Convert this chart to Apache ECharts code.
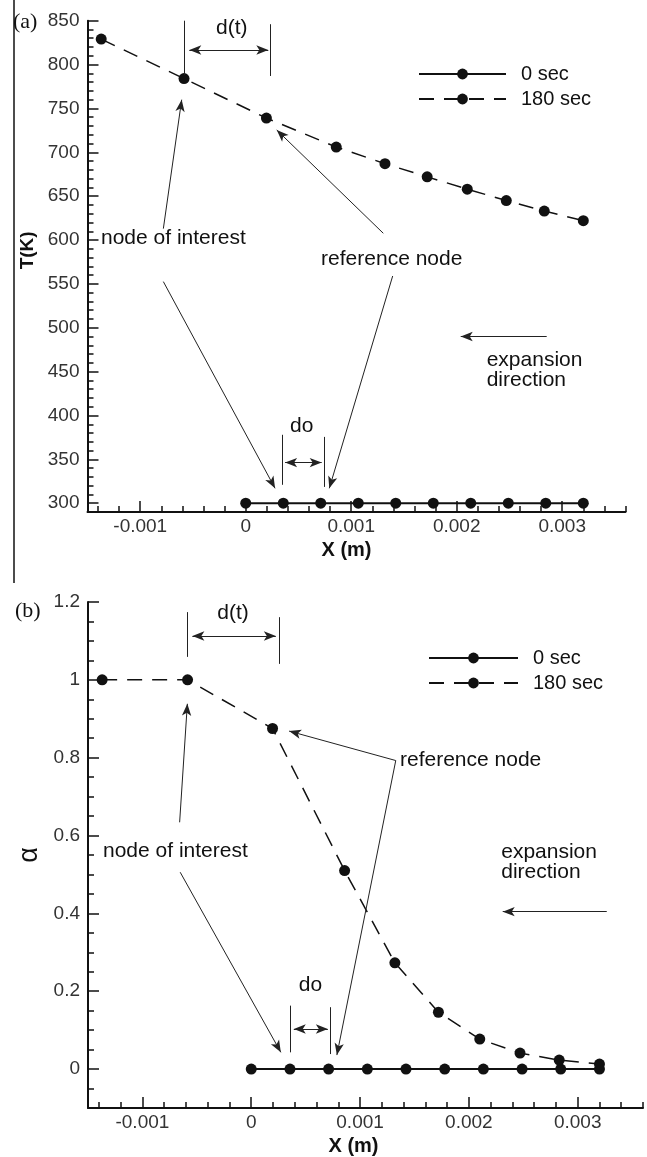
<!DOCTYPE html>
<html>
<head>
<meta charset="utf-8">
<script src="https://cdn.jsdelivr.net/npm/echarts@6/dist/echarts.min.js"></script>
<style>html,body{margin:0;padding:0;background:#fff}#main{width:647px;height:1157px}</style>
</head>
<body>
<div id="main"></div>
<script>
// node positions (m)
var xNodes0 = [0, 0.000356, 0.000711, 0.001067, 0.001422, 0.001778, 0.002133, 0.002489, 0.002844, 0.0032];
var xNodes180 = [-0.00137, -0.000585, 0.000196, 0.000858, 0.00132, 0.00172, 0.0021, 0.00247, 0.00283, 0.0032];
// temperature T(K)
var T0 = [300, 300, 300, 300, 300, 300, 300, 300, 300, 300];
var T180 = [829, 784, 739, 706, 687, 672, 658, 645, 633, 622];
// alpha
var alpha0 = [0, 0, 0, 0, 0, 0, 0, 0, 0, 0];
var alpha180 = [1, 1, 0.875, 0.51, 0.273, 0.146, 0.077, 0.041, 0.023, 0.013];
var seriesNames = ['0 sec', '180 sec'];

// tick labels
var xMajor = [-0.001, 0, 0.001, 0.002, 0.003];
var tMajor = [300, 350, 400, 450, 500, 550, 600, 650, 700, 750, 800, 850];
var aMajor = [0, 0.2, 0.4, 0.6, 0.8, 1, 1.2];

function steps(from, to, step) {
  var out = [];
  var n = Math.round((to - from) / step);
  for (var i = 0; i <= n; i++) out.push(+(from + i * step).toFixed(6));
  return out;
}
var xMinor = steps(-0.0014, 0.0036, 0.0002);
var tMinor = steps(300, 850, 10);
var aMinor = steps(-0.05, 1.2, 0.05);

function pairs(xs, ys) {
  return xs.map(function (x, i) { return [x, ys[i]]; });
}

var sans = 'Liberation Sans, Arial, sans-serif';
var ink = '#111';

// annotation helpers (data coordinates)
function seg(a, b, endArrow, startArrow) {
  return [
    {coord: a, symbol: startArrow ? 'arrow' : 'none'},
    {coord: b, symbol: endArrow ? 'arrow' : 'none'}
  ];
}
function note(txt, c, align) {
  return {coord: c, value: 0, label: {formatter: txt, align: align || 'center'}};
}
function marks(lines, notes) {
  return {
    markLine: {
      silent: true, animation: false,
      symbolSize: [7, 12],
      label: {show: false},
      lineStyle: {color: '#222', width: 1, type: 'solid'},
      emphasis: {disabled: true},
      data: lines
    },
    markPoint: {
      silent: true, animation: false,
      symbol: 'circle', symbolSize: 0,
      itemStyle: {color: 'transparent'},
      label: {show: true, position: 'inside', fontSize: 21, lineHeight: 20, color: ink, fontFamily: sans},
      data: notes
    }
  };
}

var annA = marks([
  seg([-0.000582, 850], [-0.000582, 788]),
  seg([0.00023, 846], [0.00023, 787]),
  seg([-0.000535, 816.6], [0.000214, 816.6], true, true),
  seg([-0.000781, 613], [-0.000607, 760], true),
  seg([-0.000781, 552.6], [0.000278, 317], true),
  seg([0.001304, 607.7], [0.000294, 725.4], true),
  seg([0.001393, 559], [0.000792, 317], true),
  seg([0.000344, 378], [0.000344, 321]),
  seg([0.000742, 375.6], [0.000742, 318.6]),
  seg([0.000373, 346.3], [0.00072, 346.3], true, true),
  seg([0.002853, 490], [0.002038, 490], true)
], [
  note('d(t)', [-0.000133, 841]),
  note('do', [0.000531, 388]),
  note('node of interest', [-0.000686, 602]),
  note('reference node', [0.001384, 578]),
  note('expansion\ndirection', [0.002284, 452], 'left')
]);

var annB = marks([
  seg([-0.000591, 1.174], [-0.000591, 1.059]),
  seg([0.000256, 1.161], [0.000256, 1.041]),
  seg([-0.000541, 1.1126], [0.000226, 1.1126], true, true),
  seg([-0.000658, 0.634], [-0.000587, 0.9385], true),
  seg([-0.000653, 0.5058], [0.000272, 0.043], true),
  seg([0.001328, 0.7927], [0.000348, 0.8683], true),
  seg([0.001328, 0.7927], [0.000787, 0.036], true),
  seg([0.000354, 0.163], [0.000354, 0.043]),
  seg([0.000727, 0.159], [0.000727, 0.0386]),
  seg([0.000391, 0.1029], [0.000704, 0.1029], true, true),
  seg([0.003267, 0.4045], [0.002311, 0.4045], true)
], [
  note('d(t)', [-0.000168, 1.170]),
  note('do', [0.000544, 0.216]),
  note('node of interest', [-0.000697, 0.5605]),
  note('reference node', [0.001367, 0.7927], 'left'),
  note('expansion\ndirection', [0.002297, 0.532], 'left')
]);

function majorAxis(grid, min, max, ticks, extra) {
  var ax = {
    gridIndex: grid, type: 'value', min: min, max: max,
    axisLine: {onZero: false, lineStyle: {color: ink, width: 2}},
    axisTick: {inside: true, length: 11, customValues: ticks, lineStyle: {color: ink, width: 1.5}},
    axisLabel: {customValues: ticks, fontSize: 19, color: '#333', fontFamily: sans},
    splitLine: {show: false}
  };
  for (var k in extra) ax[k] = extra[k];
  return ax;
}
function minorAxis(grid, min, max, ticks, pos) {
  return {
    gridIndex: grid, type: 'value', min: min, max: max, position: pos,
    axisLine: {show: false, onZero: false},
    axisTick: {inside: true, length: 6, customValues: ticks, lineStyle: {color: ink, width: 1.5}},
    axisLabel: {show: false},
    splitLine: {show: false}
  };
}
function xName(pad) {
  return {name: 'X (m)', nameLocation: 'middle', nameGap: 28, position: 'bottom',
    nameTextStyle: {fontSize: 20, fontWeight: 'bold', color: ink, fontFamily: sans, padding: [0, pad, 0, 0]}};
}

var xA = majorAxis(0, -0.0015, 0.0036, xMajor, xName(20));
xA.axisLabel.margin = 5;
var xB = majorAxis(1, -0.0015, 0.0036, xMajor, xName(24));
xB.axisLabel.margin = 5;
var yA = majorAxis(0, 290, 850, tMajor, {position: 'left', name: 'T(K)', nameLocation: 'middle', nameGap: 46,
  nameTextStyle: {fontSize: 19, fontWeight: 'bold', color: ink, fontFamily: sans, padding: [0, 0, 0, 32]}});
yA.axisLabel.margin = 8;
var yB = majorAxis(1, -0.1, 1.2, aMajor, {position: 'left', name: 'α', nameLocation: 'middle', nameGap: 41,
  nameTextStyle: {fontSize: 27, color: ink, fontFamily: sans}});
yB.axisLabel.margin = 8;

function lineSeries(name, xi, yi, xs, ys, dashed, extra) {
  var s = {
    name: name, type: 'line', xAxisIndex: xi, yAxisIndex: yi,
    data: pairs(xs, ys),
    symbol: 'circle', symbolSize: 11, showAllSymbol: true,
    itemStyle: {color: ink},
    lineStyle: dashed ? {color: ink, width: 1.5, type: [15, 10]} : {color: ink, width: 2},
    emphasis: {disabled: true},
    animation: false
  };
  for (var k in extra) s[k] = extra[k];
  return s;
}

var legendBase = {
  orient: 'vertical', padding: 0, itemHeight: 13.5, itemGap: 5,
  data: seriesNames,
  textStyle: {fontSize: 20, color: ink, fontFamily: sans, padding: [0, 0, 0, 10]}
};
function legendAt(left, top, w) {
  var l = JSON.parse(JSON.stringify(legendBase));
  l.left = left; l.top = top; l.itemWidth = w;
  return l;
}

var chart = echarts.init(document.getElementById('main'));
chart.setOption({
  backgroundColor: '#fff',
  animation: false,
  title: [
    {text: '(a)', left: 8, top: 6, textStyle: {fontFamily: 'Liberation Serif, serif', fontSize: 22, fontWeight: 'normal', color: ink}},
    {text: '(b)', left: 10, top: 595, textStyle: {fontFamily: 'Liberation Serif, serif', fontSize: 22, fontWeight: 'normal', color: ink}}
  ],
  legend: [legendAt(418, 64, 87), legendAt(428, 648, 89)],
  grid: [
    {left: 87.5, top: 20.7, width: 538, height: 491.3},
    {left: 88, top: 602, width: 555, height: 507}
  ],
  xAxis: [xA, minorAxis(0, -0.0015, 0.0036, xMinor, 'bottom'), xB, minorAxis(1, -0.0015, 0.0036, xMinor, 'bottom')],
  yAxis: [yA, minorAxis(0, 290, 850, tMinor, 'left'), yB, minorAxis(1, -0.1, 1.2, aMinor, 'left')],
  graphic: [
    {type: 'line', shape: {x1: 14, y1: 0, x2: 14, y2: 583}, style: {stroke: ink, lineWidth: 1.5}}
  ],
  series: [
    lineSeries(seriesNames[0], 0, 0, xNodes0, T0, false, {z: 3}),
    lineSeries(seriesNames[1], 0, 0, xNodes180, T180, true, annA),
    lineSeries(seriesNames[0], 2, 2, xNodes0, alpha0, false, {z: 3}),
    lineSeries(seriesNames[1], 2, 2, xNodes180, alpha180, true, annB)
  ]
});
</script>
</body>
</html>
